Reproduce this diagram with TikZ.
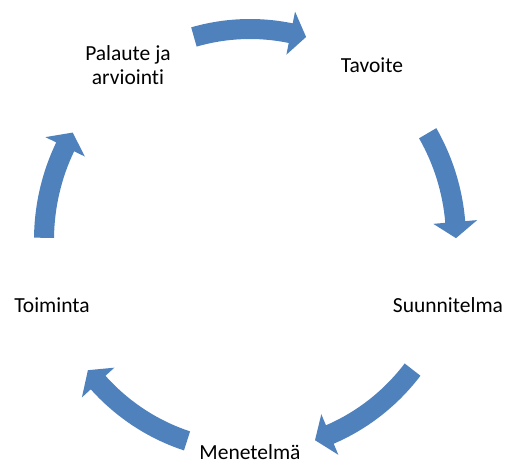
\documentclass[tikz,border=0pt]{standalone}
\usepackage{fontspec}
\setmainfont{Carlito}[Ligatures=NoCommon]
\usepackage{tikz}
\definecolor{cycleblue}{RGB}{79,129,189}

\begin{document}
\begin{tikzpicture}[x=1pt, y=1pt,
  phase/.style={font=\fontsize{21.5}{24}\selectfont, inner sep=0pt},
  blockarrow/.style={fill=cycleblue}]
\useasboundingbox (-250,-222) rectangle (255,240);
% curved block arrows: tail angle / tip angle
\foreach \a/\b in {105.8/74.2, 30.4/0.5, -37.9/-71.6, -107.8/-141.9, 179.4/149.4}
  \fill[blockarrow] (\a:216 and 221) arc[start angle=\a, end angle=\b+4.4, x radius=216pt, y radius=221pt]
    -- (\b+4.4:228 and 233) -- (\b:206 and 211) -- (\b+4.4:184 and 189) -- (\b+4.4:196 and 201)
    arc[start angle=\b+4.4, end angle=\a, x radius=196pt, y radius=201pt] -- cycle;
\node[phase, anchor = base] (tavoite) at (122,167) {Tavoite};
\node[phase, anchor = base] (suunnitelma) at (198,-73) {Suunnitelma};
\node[phase, anchor = base] (menetelma) at (0,-219) {Menetelmä};
\node[phase, anchor = base] (toiminta) at (-198,-73) {Toiminta};
\node[phase, align = center] (palaute) at (-122,175) {Palaute ja\\arviointi};
\end{tikzpicture}
\end{document}
